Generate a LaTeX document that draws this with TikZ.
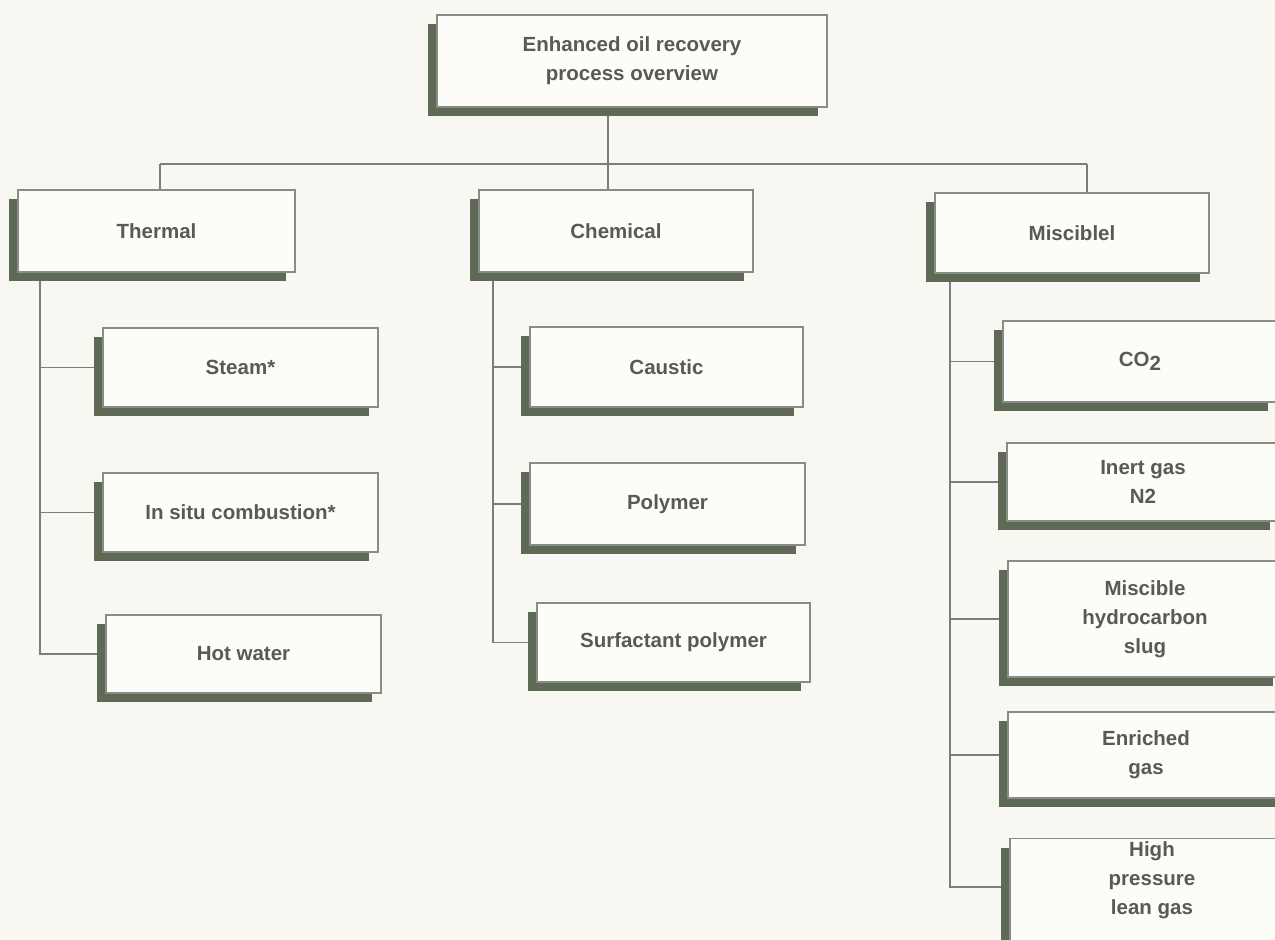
\documentclass[tikz,border=0pt]{standalone}
\usepackage{fontspec}
\setmainfont{Liberation Sans}
\usetikzlibrary{shadows,backgrounds}
\definecolor{eorPaper}{HTML}{F8F7F1}
\definecolor{eorFill}{HTML}{FCFCF8}
\definecolor{eorEdge}{HTML}{8A8B85}
\definecolor{eorShade}{HTML}{5E6A56}
\definecolor{eorLine}{HTML}{7C7D77}
\definecolor{eorText}{HTML}{595A56}
\tikzset{
  eorbox/.style={
    draw=eorEdge, line width=1.4pt, fill=eorFill, text=eorText,
    font=\fontsize{20.5}{29}\selectfont\bfseries, align=center, inner sep=2pt,
    minimum width=274pt, minimum height=80pt,
    drop shadow={shadow xshift=-9pt, shadow yshift=-9pt, opacity=1, fill=eorShade, draw=none}
  },
  link/.style={draw=eorLine, line width=1.4pt}
}

\begin{document}
\begin{tikzpicture}[x=1pt, y=-1pt]
  \useasboundingbox (0,0) rectangle (1275,940);
  \clip (0,0) rectangle (1275,940);

  % top and main groups
  \node[eorbox, minimum width=390pt, minimum height=92pt] (root) at (632,61) {Enhanced oil recovery\\process overview};
  \node[eorbox, minimum width=277pt, minimum height=82pt] (therm) at (156.5,231) {Thermal};
  \node[eorbox, minimum height=82pt] (chem) at (616,231) {Chemical};
  \node[eorbox] (misc) at (1072,233) {Misciblel};

  % thermal
  \node[eorbox, minimum width=275pt, minimum height=79pt] (steam) at (240.5,367.5) {Steam*};
  \node[eorbox, minimum width=275pt, minimum height=79pt] (insitu) at (240.5,512.5) {In situ combustion*};
  \node[eorbox, minimum width=275pt, minimum height=78pt] (hotw) at (243.5,654) {Hot water};

  % chemical
  \node[eorbox, minimum width=273pt] (caustic) at (666.5,367) {Caustic};
  \node[eorbox, minimum width=275pt, minimum height=82pt] (polymer) at (667.5,504) {Polymer};
  \node[eorbox, minimum width=273pt, minimum height=79pt] (surfp) at (673.5,642.5) {Surfactant polymer};

  % miscible
  \node[eorbox, minimum height=81pt] (co2) at (1140,361.5) {CO\raisebox{-4pt}{2}};
  \node[eorbox, minimum width=272pt, minimum height=78pt] (inert) at (1143,482) {Inert gas\\N2};
  \node[eorbox, minimum height=116pt] (mhs) at (1145,619) {Miscible\\hydrocarbon\\slug};
  \node[eorbox, minimum width=276pt, minimum height=86pt] (enrich) at (1146,755) {Enriched\\gas};
  \node[eorbox, anchor=north, minimum width=284pt, minimum height=0pt, inner ysep=2.5pt,
        text height=73.5pt, text depth=43.5pt] (hplg) at (1152,838) {High\\pressure\\lean gas};

  \coordinate (dT) at (160,164);
  \coordinate (dC) at (608,164);
  \coordinate (dM) at (1087,164);
  \coordinate (xT) at (40,0);
  \coordinate (xC) at (493,0);
  \coordinate (xM) at (950,0);
  \coordinate (bH) at (950,887);

  \begin{pgfonlayer}{background}
    \fill[eorPaper] (0,0) rectangle (1275,940);
    \draw[link] (root.south -| dC) -- (dC);
    \draw[link] (dT) -- (dM);
    \draw[link] (dT) -- (dT |- therm.north);
    \draw[link] (dC) -- (dC |- chem.north);
    \draw[link] (dM) -- (dM |- misc.north);

    \draw[link] (therm.south -| xT) |- (hotw.west);
    \draw[link] (xT |- steam.west) -- (steam.west);
    \draw[link] (xT |- insitu.west) -- (insitu.west);

    \draw[link] (chem.south -| xC) |- (surfp.west);
    \draw[link] (xC |- caustic.west) -- (caustic.west);
    \draw[link] (xC |- polymer.west) -- (polymer.west);

    \draw[link] (misc.south -| xM) -- (bH) -- (bH -| hplg.west);
    \draw[link] (xM |- co2.west) -- (co2.west);
    \draw[link] (xM |- inert.west) -- (inert.west);
    \draw[link] (xM |- mhs.west) -- (mhs.west);
    \draw[link] (xM |- enrich.west) -- (enrich.west);
  \end{pgfonlayer}
\end{tikzpicture}
\end{document}
